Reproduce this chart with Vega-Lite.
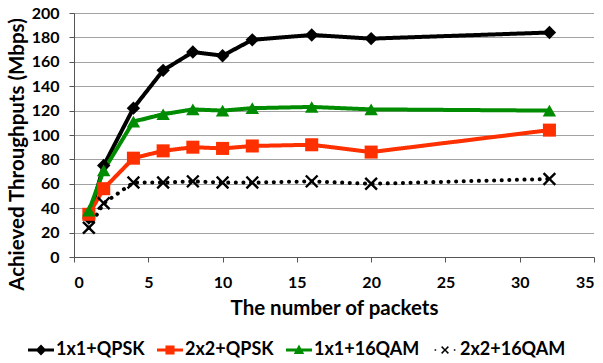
{
  "$schema": "https://vega.github.io/schema/vega-lite/v6.json",
  "width": 520,
  "height": 244,
  "autosize": {"type": "none"},
  "padding": {"left": 74, "top": 13, "right": 9, "bottom": 106},
  "background": "white",
  "config": {
    "view": {"stroke": null},
    "font": "Lato",
    "axis": {
      "labelFont": "Lato", "labelFontWeight": "bold", "labelFontSize": 16, "labelColor": "#000",
      "titleFont": "Lato", "titleFontWeight": "bold", "titleFontSize": 20.5, "titleColor": "#000",
      "domainColor": "#555", "tickColor": "#555", "gridColor": "#444", "gridDash": [1, 1], "gridWidth": 1
    },
    "legend": {
      "labelFont": "Lato", "labelFontWeight": "bold", "labelFontSize": 18, "labelColor": "#000"
    }
  },
  "data": {"values": [
    {"series": "1x1+QPSK", "x": 1, "y": 32},
    {"series": "1x1+QPSK", "x": 2, "y": 75},
    {"series": "1x1+QPSK", "x": 4, "y": 122},
    {"series": "1x1+QPSK", "x": 6, "y": 153},
    {"series": "1x1+QPSK", "x": 8, "y": 168},
    {"series": "1x1+QPSK", "x": 10, "y": 165},
    {"series": "1x1+QPSK", "x": 12, "y": 178},
    {"series": "1x1+QPSK", "x": 16, "y": 182},
    {"series": "1x1+QPSK", "x": 20, "y": 179},
    {"series": "1x1+QPSK", "x": 32, "y": 184},
    {"series": "2x2+QPSK", "x": 1, "y": 35},
    {"series": "2x2+QPSK", "x": 2, "y": 56},
    {"series": "2x2+QPSK", "x": 4, "y": 81},
    {"series": "2x2+QPSK", "x": 6, "y": 87},
    {"series": "2x2+QPSK", "x": 8, "y": 90},
    {"series": "2x2+QPSK", "x": 10, "y": 89},
    {"series": "2x2+QPSK", "x": 12, "y": 91},
    {"series": "2x2+QPSK", "x": 16, "y": 92},
    {"series": "2x2+QPSK", "x": 20, "y": 86},
    {"series": "2x2+QPSK", "x": 32, "y": 104},
    {"series": "1x1+16QAM", "x": 1, "y": 38},
    {"series": "1x1+16QAM", "x": 2, "y": 71},
    {"series": "1x1+16QAM", "x": 4, "y": 111},
    {"series": "1x1+16QAM", "x": 6, "y": 117},
    {"series": "1x1+16QAM", "x": 8, "y": 121},
    {"series": "1x1+16QAM", "x": 10, "y": 120},
    {"series": "1x1+16QAM", "x": 12, "y": 122},
    {"series": "1x1+16QAM", "x": 16, "y": 123},
    {"series": "1x1+16QAM", "x": 20, "y": 121},
    {"series": "1x1+16QAM", "x": 32, "y": 120},
    {"series": "2x2+16QAM", "x": 1, "y": 24},
    {"series": "2x2+16QAM", "x": 2, "y": 44},
    {"series": "2x2+16QAM", "x": 4, "y": 61},
    {"series": "2x2+16QAM", "x": 6, "y": 61},
    {"series": "2x2+16QAM", "x": 8, "y": 62},
    {"series": "2x2+16QAM", "x": 10, "y": 61},
    {"series": "2x2+16QAM", "x": 12, "y": 61},
    {"series": "2x2+16QAM", "x": 16, "y": 62},
    {"series": "2x2+16QAM", "x": 20, "y": 60},
    {"series": "2x2+16QAM", "x": 32, "y": 64}
  ]},
  "encoding": {
    "x": {"field": "x", "type": "quantitative", "title": "The number of packets",
      "scale": {"domain": [0, 35], "nice": false},
      "axis": {"values": [0, 5, 10, 15, 20, 25, 30, 35], "grid": false, "tickSize": 5, "labelPadding": 12, "titlePadding": 8}},
    "y": {"field": "y", "type": "quantitative", "title": "Achieved Throughputs (Mbps)",
      "scale": {"domain": [0, 200], "nice": false},
      "axis": {"values": [0, 20, 40, 60, 80, 100, 120, 140, 160, 180, 200], "tickSize": 5, "labelPadding": 10, "titlePadding": 4, "titleY": 141}}
  },
  "layer": [
    {
      "mark": {"type": "point", "filled": true, "opacity": 1, "size": 8},
      "encoding": {
        "color": {"field": "series", "type": "nominal",
          "scale": {"domain": ["1x1+QPSK", "2x2+QPSK", "1x1+16QAM", "2x2+16QAM"], "range": ["#000000", "#ff3000", "#008c00", "#000000"]},
          "legend": {
            "orient": "none", "legendX": -46, "legendY": 324, "direction": "horizontal", "columns": 4,
            "title": null, "symbolSize": 676, "symbolStrokeWidth": 0, "symbolOpacity": 1, "columnPadding": 12, "labelOffset": 2
          }},
        "shape": {"field": "series", "type": "nominal",
          "scale": {"domain": ["1x1+QPSK", "2x2+QPSK", "1x1+16QAM", "2x2+16QAM"],
            "range": [
              "M-1,-0.12L-0.3,-0.12L0,-0.42L0.3,-0.12L1,-0.12L1,0.12L0.3,0.12L0,0.42L-0.3,0.12L-1,0.12Z",
              "M-1,-0.12L-0.35,-0.12L-0.35,-0.35L0.35,-0.35L0.35,-0.12L1,-0.12L1,0.12L0.35,0.12L0.35,0.35L-0.35,0.35L-0.35,0.12L-1,0.12Z",
              "M-1,-0.12L-0.167,-0.12L0,-0.42L0.167,-0.12L1,-0.12L1,0.12L0.3,0.12L0.4,0.3L-0.4,0.3L-0.3,0.12L-1,0.12Z",
              "M-0.3,-0.22L-0.22,-0.3L0,-0.08L0.22,-0.3L0.3,-0.22L0.08,0L0.3,0.22L0.22,0.3L0,0.08L-0.22,0.3L-0.3,0.22L-0.08,0ZM-0.8,-0.06L-0.68,-0.06L-0.68,0.06L-0.8,0.06ZM0.68,-0.06L0.8,-0.06L0.8,0.06L0.68,0.06Z"
            ]},
          "legend": {
            "orient": "none", "legendX": -46, "legendY": 324, "direction": "horizontal", "columns": 4,
            "title": null, "symbolSize": 676, "symbolStrokeWidth": 0, "symbolOpacity": 1, "columnPadding": 12, "labelOffset": 2
          }}
      }
    },
    {
      "mark": {"type": "line", "strokeWidth": 4, "strokeCap": "round"},
      "encoding": {
        "stroke": {"field": "series", "type": "nominal", "legend": null,
          "scale": {"domain": ["1x1+QPSK", "2x2+QPSK", "1x1+16QAM", "2x2+16QAM"], "range": ["#000000", "#ff3000", "#008c00", "#000000"]}},
        "strokeDash": {"field": "series", "type": "nominal", "legend": null,
          "scale": {"domain": ["1x1+QPSK", "2x2+QPSK", "1x1+16QAM", "2x2+16QAM"], "range": [[1, 0], [1, 0], [1, 0], [0.1, 7.5]]}}
      }
    },
    {
      "transform": [{"filter": "datum.series === '1x1+QPSK'"}],
      "mark": {"type": "point", "filled": true, "opacity": 1, "size": 180, "shape": "diamond", "color": "#000000"}
    },
    {
      "transform": [{"filter": "datum.series === '2x2+QPSK'"}],
      "mark": {"type": "point", "filled": true, "opacity": 1, "size": 170, "shape": "square", "color": "#ff3000"}
    },
    {
      "transform": [{"filter": "datum.series === '1x1+16QAM'"}],
      "mark": {"type": "point", "filled": true, "opacity": 1, "size": 180, "shape": "triangle-up", "color": "#008c00"}
    },
    {
      "transform": [{"filter": "datum.series === '2x2+16QAM'"}],
      "mark": {"type": "point", "filled": true, "opacity": 1, "size": 180, "shape": "M-0.75,-1L0,-0.25L0.75,-1L1,-0.75L0.25,0L1,0.75L0.75,1L0,0.25L-0.75,1L-1,0.75L-0.25,0L-1,-0.75Z", "color": "#000000"}
    }
  ]
}
